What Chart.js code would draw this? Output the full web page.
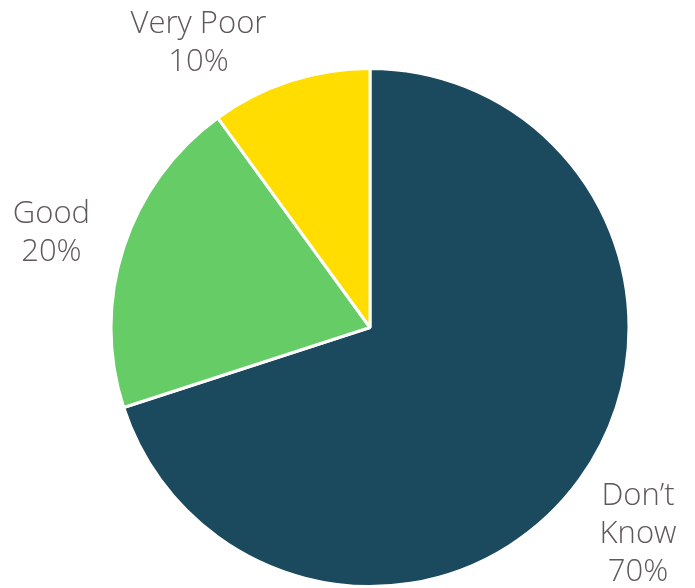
<!DOCTYPE html>
<html>
<head>
<meta charset="utf-8">
<script src="https://cdn.jsdelivr.net/npm/chart.js@4"></script>
<style>
html,body{margin:0;padding:0;background:#fff;}
#wrap{width:695px;height:588px;position:relative;}
</style>
</head>
<body>
<div id="wrap"><canvas id="c" width="695" height="588"></canvas></div>
<script>
const categories = ["Don\u2019t Know", "Good", "Very Poor"];
const labelLines = [["Don\u2019t", "Know"], ["Good"], ["Very Poor"]];
const values = [70, 20, 10];
const colors = ["#1B495D", "#66CC66", "#FFDD00"];

const labelOffsets = [[-3, 10], [0, 9], [-68, 34]];

const outsideLabels = {
  id: 'outsideLabels',
  afterDatasetsDraw(chart) {
    const ctx = chart.ctx;
    const meta = chart.getDatasetMeta(0);
    const total = values.reduce((a, b) => a + b, 0);
    ctx.save();
    ctx.fillStyle = '#605858';
    ctx.font = '300 31px "Open Sans", sans-serif';
    ctx.textAlign = 'center';
    ctx.textBaseline = 'middle';
    const lh = 38;
    meta.data.forEach((arc, i) => {
      const mid = (arc.startAngle + arc.endAngle) / 2;
      const d = arc.outerRadius + 76;
      const x = arc.x + Math.cos(mid) * d + labelOffsets[i][0];
      const y = arc.y + Math.sin(mid) * d + labelOffsets[i][1];
      const lines = labelLines[i].concat([Math.round(values[i] / total * 100) + '%']);
      const top = y - (lines.length - 1) * lh / 2;
      lines.forEach((t, k) => ctx.fillText(t, x, top + k * lh));
    });
    ctx.restore();
  }
};

new Chart(document.getElementById('c'), {
  type: 'pie',
  data: {
    labels: categories,
    datasets: [{
      data: values,
      backgroundColor: colors,
      borderColor: '#ffffff',
      borderWidth: 3
    }]
  },
  options: {
    responsive: false,
    animation: false,
    layout: { padding: { left: 108, right: 63, top: 67, bottom: 0 } },
    plugins: { legend: { display: false }, tooltip: { enabled: false } }
  },
  plugins: [outsideLabels]
});
</script>
</body>
</html>
